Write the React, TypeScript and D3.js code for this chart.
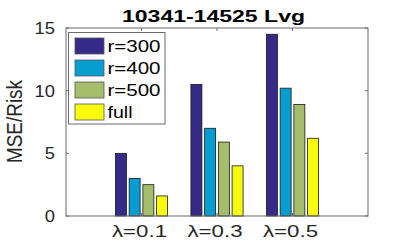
import React from "react";
import * as d3 from "d3";

const categories = ["λ=0.1", "λ=0.3", "λ=0.5"];
const seriesNames = ["r=300", "r=400", "r=500", "full"];
const r300 = [5.0, 10.5, 14.5];
const r400 = [3.0, 7.0, 10.2];
const r500 = [2.5, 5.9, 8.9];
const full = [1.6, 4.0, 6.2];
const seriesValues = [r300, r400, r500, full];
const colors = ["#352a87", "#079dd1", "#a5be6b", "#f9fb0e"];
const yTicks = [0, 5, 10, 15];
const title = "10341-14525 Lvg";
const yLabel = "MSE/Risk";

const W = 407;
const H = 245;
const M = { left: 66, right: 368, top: 28, bottom: 216 };
const FONT = "'Liberation Sans', Arial, Helvetica, sans-serif";
const AX = "#6b6b6b";
const TXT = "#262626";

export default function App() {
  const x = d3.scaleLinear().domain([0, categories.length + 1]).range([M.left, M.right]);
  const y = d3.scaleLinear().domain([0, 15]).range([M.bottom, M.top]);
  const unit = x(1) - x(0);
  const groupW = unit * (seriesNames.length / (seriesNames.length + 1.5));
  const inner = d3
    .scaleBand<string>()
    .domain(seriesNames)
    .range([-groupW / 2, groupW / 2])
    .paddingInner(0.2)
    .paddingOuter(0.1);

  const legX = 68.5;
  const legY = 32.5;
  const legW = 96.5;
  const legH = 91.5;
  const rowH = 22;

  return (
    <svg
      width={W}
      height={H}
      style={{ position: "absolute", left: 0, top: 0, background: "#fff" }}
      fontFamily={FONT}
    >
      <rect x={0} y={0} width={W} height={H} fill="#fff" />
      {/* bars */}
      {seriesValues.map((vals, si) =>
        vals.map((v, ci) => {
          const cx = x(ci + 1);
          const bx = cx + (inner(seriesNames[si]) as number);
          return (
            <rect
              key={`${si}-${ci}`}
              x={bx}
              y={y(v)}
              width={inner.bandwidth()}
              height={y(0) - y(v)}
              fill={colors[si]}
              stroke="#1a1a1a"
              strokeWidth={0.8}
            />
          );
        })
      )}
      {/* axes box */}
      <rect
        x={M.left}
        y={M.top}
        width={M.right - M.left}
        height={M.bottom - M.top}
        fill="none"
        stroke={AX}
        strokeWidth={1}
      />
      {/* y ticks */}
      {yTicks.map((t) => (
        <g key={`yt${t}`}>
          <line x1={M.left} x2={M.left + 3} y1={y(t)} y2={y(t)} stroke={AX} />
          <line x1={M.right} x2={M.right - 3} y1={y(t)} y2={y(t)} stroke={AX} />
          <text
            x={55}
            y={y(t) + 6}
            textAnchor="end"
            fontSize={16}
            fill={TXT}
            textLength={String(t).length * 10.2}
            lengthAdjust="spacingAndGlyphs"
          >
            {t}
          </text>
        </g>
      ))}
      {/* x ticks */}
      {categories.map((c, i) => (
        <g key={`xt${i}`}>
          <line x1={x(i + 1)} x2={x(i + 1)} y1={M.bottom} y2={M.bottom - 3} stroke={AX} />
          <line x1={x(i + 1)} x2={x(i + 1)} y1={M.top} y2={M.top + 3} stroke={AX} />
          <text
            x={x(i + 1) - 2}
            y={237}
            textAnchor="middle"
            fontSize={16}
            fill={TXT}
            textLength={55}
            lengthAdjust="spacingAndGlyphs"
          >
            {c}
          </text>
        </g>
      ))}
      {/* y label */}
      <g transform={`translate(22,121.5) scale(1.25,1) rotate(-90)`}>
        <text
          x={0}
          y={0}
          textAnchor="middle"
          fontSize={18}
          fill={TXT}
          textLength={83}
          lengthAdjust="spacingAndGlyphs"
        >
          {yLabel}
        </text>
      </g>
      {/* title */}
      <text
        x={213.5}
        y={21.5}
        textAnchor="middle"
        fontSize={16.5}
        fontWeight="bold"
        fill="#000"
        textLength={183}
        lengthAdjust="spacingAndGlyphs"
      >
        {title}
      </text>
      {/* legend */}
      <rect x={legX} y={legY} width={legW} height={legH} fill="#fff" stroke={AX} strokeWidth={1} />
      {seriesNames.map((s, i) => {
        const cy = 46 + i * rowH;
        return (
          <g key={`lg${s}`}>
            <rect
              x={75}
              y={cy - 8}
              width={29}
              height={16}
              fill={colors[i]}
              stroke="#555"
              strokeWidth={0.8}
            />
            <text
              x={107.5}
              y={cy + 6}
              fontSize={16}
              fill="#000"
              textLength={s === "full" ? 25 : 53}
              lengthAdjust="spacingAndGlyphs"
            >
              {s}
            </text>
          </g>
        );
      })}
    </svg>
  );
}
